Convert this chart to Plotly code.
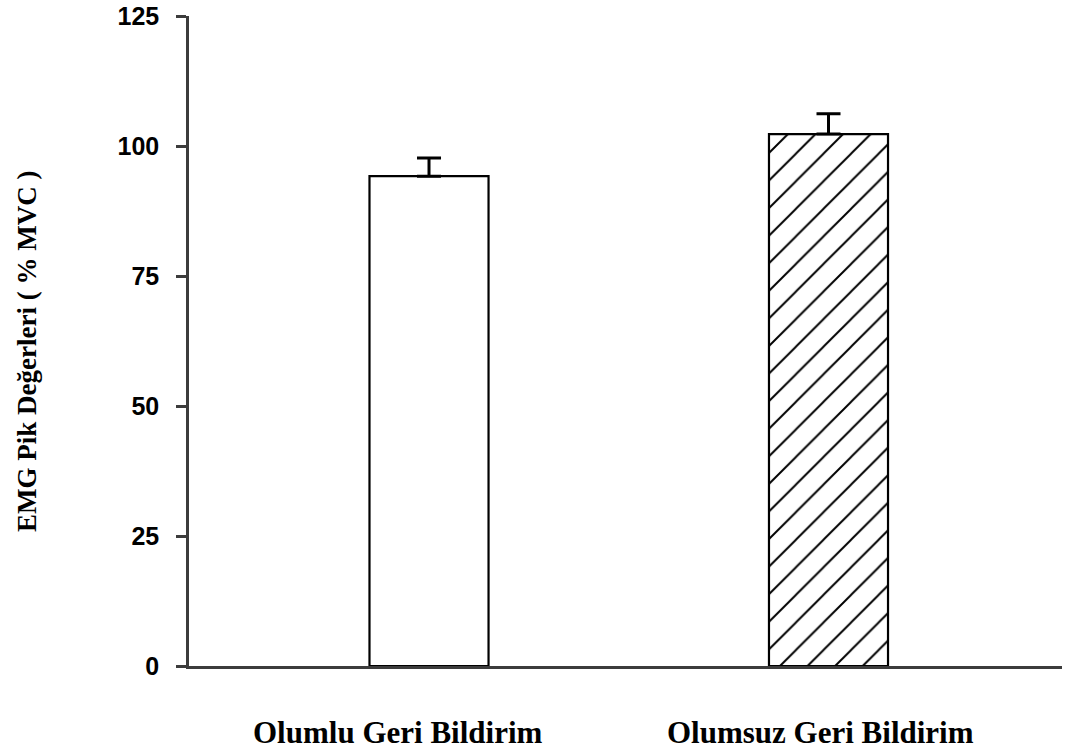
import plotly.graph_objects as go

categories = ["Olumlu Geri Bildirim", "Olumsuz Geri Bildirim"]
means = [94.2, 102.3]
errors = [3.5, 3.9]
y_ticks = [0, 25, 50, 75, 100, 125]
label_shift = [-31, -8]

axis_color = "#3c3c3c"
xpos = list(range(len(categories)))

fig = go.Figure()
fig.add_trace(go.Bar(
    x=xpos, y=means, width=0.298,
    marker=dict(
        color="white",
        line=dict(color="black", width=2.2),
        pattern=dict(shape=["", "/"], fgcolor="black", bgcolor="white",
                     fgopacity=1, size=19.5, solidity=0.1, fillmode="overlay"),
    ),
    error_y=dict(type="data", array=errors, arrayminus=[0] * len(errors),
                 symmetric=False, color="black", thickness=3, width=12),
    showlegend=False,
))

for i, cat in enumerate(categories):
    fig.add_annotation(x=xpos[i], xref="x", y=-0.103, yref="paper",
                       text="<b>" + cat + "</b>", showarrow=False, xshift=label_shift[i],
                       xanchor="center", yanchor="middle",
                       font=dict(family="Liberation Serif", size=31, color="black"))

fig.add_annotation(x=-0.185, xref="paper", y=0.484, yref="paper",
                   text="<b>EMG Pik Değerleri ( % MVC )</b>", textangle=-90,
                   showarrow=False, xanchor="center", yanchor="middle",
                   font=dict(family="Liberation Serif", size=27, color="black"))

fig.update_layout(
    width=1067, height=751,
    margin=dict(l=189, r=5, t=16, b=85),
    paper_bgcolor="white", plot_bgcolor="white",
    xaxis=dict(range=[-0.6008, 1.5845], showgrid=False, zeroline=False,
               showline=True, linecolor=axis_color, linewidth=2.5,
               showticklabels=False, ticks=""),
    yaxis=dict(range=[0, 125], tickvals=y_ticks, showgrid=False, zeroline=False,
               showline=True, linecolor=axis_color, linewidth=2.5,
               ticks="outside", ticklen=10, tickwidth=2.5, tickcolor=axis_color,
               ticklabelstandoff=12, automargin=False,
               tickfont=dict(family="Liberation Sans", size=25, color="black", weight="bold")),
)

fig.write_html("out.html", config={"displayModeBar": False})

# remove the default page margin so the figure sits at the window's corner
with open("out.html", "r", encoding="utf-8") as f:
    html = f.read()
html = html.replace("<head>", "<head><style>html,body{margin:0;padding:0;overflow:hidden;}</style>", 1)
with open("out.html", "w", encoding="utf-8") as f:
    f.write(html)
